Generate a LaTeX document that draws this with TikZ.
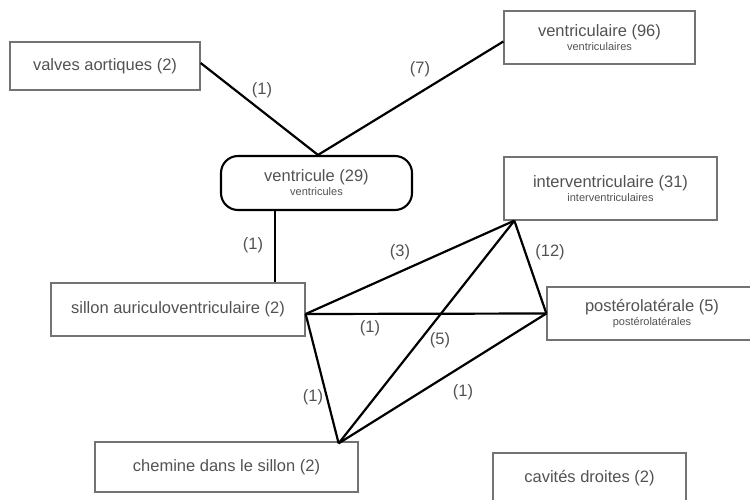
\documentclass[tikz,border=0pt]{standalone}
\usepackage{fontspec}
\setmainfont{Liberation Sans}
\usetikzlibrary{calc}
\newcommand\mainsz{\fontsize{16.5}{17}\selectfont}
\newcommand\subsz{\fontsize{11}{12}\selectfont}
\begin{document}
\begin{tikzpicture}[x=1pt,y=-1pt,
  term/.style 2 args={draw=black!55, line width=1.3pt, minimum width=#1,
    minimum height=#2, inner sep=0pt, align=center, text=black!68, font=\mainsz},
  hub/.style 2 args={draw=black, line width=2.1pt, rounded corners=17pt,
    minimum width=#1, minimum height=#2, inner sep=0pt, align=center,
    text=black!68, font=\mainsz},
  link/.style={draw=black, line width=2.2pt},
  count/.style={text=black!68, font=\mainsz, inner sep=0pt}]
\useasboundingbox (0,0) rectangle (750,500);

% terms
\node[term={190}{48}] (valv) at (105,66) {valves aortiques (2)};
\node[term={191}{53}] (vtrl) at (599.5,37.5)
  {ventriculaire (96)\\[-3pt]{\subsz ventriculaires}};
\node[hub={191}{54}] (vent) at (316.5,183)
  {ventricule (29)\\[-3pt]{\subsz ventricules}};
\node[term={213}{63}] (intv) at (610.5,188.5)
  {interventriculaire (31)\\[-3pt]{\subsz interventriculaires}};
\node[term={254}{53}] (sill) at (178,309.5) {sillon auriculoventriculaire (2)};
\node[term={210}{53}] (post) at (652,313.5)
  {postérolatérale (5)\\[-3pt]{\subsz postérolatérales}};
\node[term={263}{50}] (chem) at (226.5,467) {chemine dans le sillon (2)};
\node[term={193}{50}] (cavd) at (589.5,478) {cavités droites (2)};

% attachment points on the boxes
\coordinate (valvR) at ([yshift=3pt]valv.east);
\coordinate (vtrlL) at ([yshift=-4pt]vtrl.west);
\coordinate (ventT) at ([xshift=1.5pt]vent.north);
\coordinate (ventB) at ([xshift=-41.5pt]vent.south);
\coordinate (sillT) at (ventB |- sill.north);
\coordinate (sillR) at ([yshift=-4.5pt]sill.east);
\coordinate (intvB) at ([xshift=11pt]intv.south west);
\coordinate (postL) at (post.west);
\coordinate (chemT) at ([xshift=-20pt,yshift=-2pt]chem.north east);

% links
\draw[link] (valvR) -- (ventT);
\draw[link] (vtrlL) -- (ventT);
\draw[link] (ventB) -- (sillT);
\draw[link] (sillR) -- (intvB);
\draw[link] (sillR) -- (postL);
\draw[link] (sillR) -- (chemT);
\draw[link] (intvB) -- (postL);
\draw[link] (intvB) -- (chemT);
\draw[link] (postL) -- (chemT);

% link counts
\node[count] (c1) at (262,90) {(1)};
\node[count] (c2) at (420,69) {(7)};
\node[count] (c3) at (253,245) {(1)};
\node[count] (c4) at (400,252) {(3)};
\node[count] (c5) at (550,252) {(12)};
\node[count] (c6) at (370,328) {(1)};
\node[count] (c7) at (440,340) {(5)};
\node[count] (c8) at (313,397) {(1)};
\node[count] (c9) at (463,392) {(1)};
\end{tikzpicture}
\end{document}
